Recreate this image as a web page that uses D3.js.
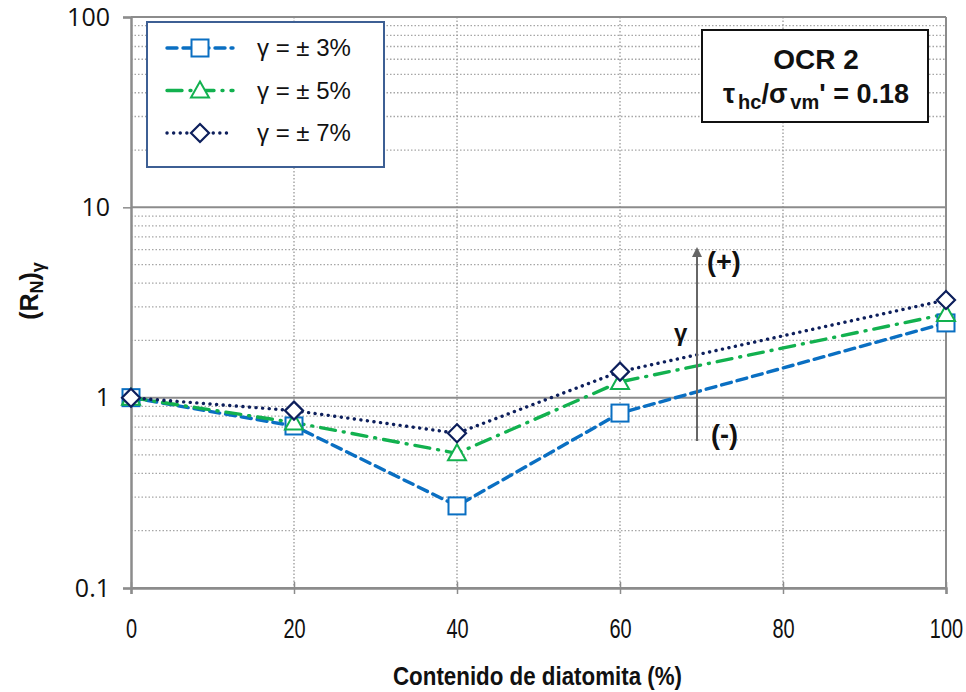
<!DOCTYPE html>
<html>
<head>
<meta charset="utf-8">
<script src="https://cdn.jsdelivr.net/npm/d3@7"></script>
<style>
  body { margin: 0; background: #fff; }
  svg { display: block; }
</style>
</head>
<body>
<div id="chart"></div>
<script>
// data
const xValues = [0, 20, 40, 60, 100];
const series3 = [1.0, 0.71, 0.27, 0.83, 2.47];
const series5 = [1.0, 0.74, 0.51, 1.21, 2.75];
const series7 = [1.0, 0.855, 0.65, 1.37, 3.26];
const seriesNames = ['γ = ± 3%', 'γ = ± 5%', 'γ = ± 7%'];
const xTicks = [0, 20, 40, 60, 80, 100];
const yTicks = [0.1, 1, 10, 100];

const W = 966, H = 692;
const margin = { top: 17, right: 20, bottom: 104, left: 131 };
const width = 946 - margin.left;
const height = 588 - margin.top;
const ARIAL = 'Arial, "Liberation Sans", sans-serif';

const svg = d3.select('#chart').append('svg')
  .attr('width', W).attr('height', H);

const g = svg.append('g')
  .attr('transform', `translate(${margin.left},${margin.top})`);

const x = d3.scaleLinear().domain([0, 100]).range([0, width]);
const y = d3.scaleLog().domain([0.1, 100]).range([height, 0]);

// minor grid (dotted)
const minor = [];
[0.1, 1, 10].forEach(d => { for (let k = 2; k <= 9; k++) minor.push(d * k); });
g.append('g').selectAll('line').data(minor).join('line')
  .attr('x1', 0).attr('x2', width)
  .attr('y1', d => y(d)).attr('y2', d => y(d))
  .attr('stroke', '#a6a6a6').attr('stroke-width', 1.3)
  .attr('stroke-dasharray', '1.5,2');

// vertical grid (dotted)
g.append('g').selectAll('line').data([20, 40, 60, 80]).join('line')
  .attr('x1', d => x(d)).attr('x2', d => x(d))
  .attr('y1', 0).attr('y2', height)
  .attr('stroke', '#999').attr('stroke-width', 1.3)
  .attr('stroke-dasharray', '1.5,2');

// major grid (solid)
g.append('g').selectAll('line').data(yTicks).join('line')
  .attr('x1', 0).attr('x2', width)
  .attr('y1', d => y(d)).attr('y2', d => y(d))
  .attr('stroke', '#8c8c8c').attr('stroke-width', 2);

// right frame
g.append('line').attr('x1', width).attr('x2', width).attr('y1', 0).attr('y2', height)
  .attr('stroke', '#8c8c8c').attr('stroke-width', 2);

// axes
const yAxis = g.append('g')
  .call(d3.axisLeft(y).tickValues(yTicks).tickFormat(d3.format('')).tickSize(8).tickPadding(13));
const xAxis = g.append('g')
  .attr('transform', `translate(0,${height})`)
  .call(d3.axisBottom(x).tickValues(xTicks).tickSize(6).tickPadding(25));
xAxis.selectAll('.tick line').attr('y1', -6);
[yAxis, xAxis].forEach(a => {
  a.select('.domain').attr('stroke', '#8c8c8c').attr('stroke-width', 2.5);
  a.selectAll('.tick line').attr('stroke', '#8c8c8c').attr('stroke-width', 1.5);
  a.selectAll('text').attr('fill', '#111');
});
yAxis.selectAll('text').style('font-family', '"Open Sans", "Noto Sans", sans-serif').style('font-size', '25px');
xAxis.selectAll('text').style('font-family', ARIAL).style('font-size', '27px')
  .attr('transform', 'scale(0.74,1)');

// series
const config = [
  { name: seriesNames[0], values: series3, color: '#0a6fc2', dash: '10,6', marker: 'square' },
  { name: seriesNames[1], values: series5, color: '#12b14f', dash: '15,8,1,8', marker: 'triangle' },
  { name: seriesNames[2], values: series7, color: '#0d1f5c', dash: '0.1,6.5', marker: 'diamond' }
];

const line = d3.line().x((d, i) => x(xValues[i])).y(d => y(d));

function drawMarker(sel, type, color) {
  if (type === 'square') {
    sel.append('rect').attr('x', -8.5).attr('y', -8.5).attr('width', 17).attr('height', 17)
      .attr('fill', '#fff').attr('stroke', color).attr('stroke-width', 2);
  } else if (type === 'triangle') {
    sel.append('path').attr('d', 'M0,-9 L9,7 L-9,7 Z')
      .attr('fill', '#fff').attr('stroke', color).attr('stroke-width', 2);
  } else {
    sel.append('path').attr('d', 'M0,-9 L9,0 L0,9 L-9,0 Z')
      .attr('fill', '#fff').attr('stroke', color).attr('stroke-width', 2.2);
  }
}

config.forEach(s => {
  g.append('path').datum(s.values)
    .attr('d', line).attr('fill', 'none')
    .attr('stroke', s.color).attr('stroke-width', 3.4)
    .attr('stroke-linecap', 'round')
    .attr('stroke-dasharray', s.dash);
});
config.forEach(s => {
  s.values.forEach((v, i) => {
    const m = g.append('g').attr('transform', `translate(${x(xValues[i])},${y(v)})`);
    drawMarker(m, s.marker, s.color);
  });
});

// legend
const legend = svg.append('g').attr('transform', 'translate(147,22)');
legend.append('rect').attr('width', 237).attr('height', 145)
  .attr('fill', '#fff').attr('stroke', '#3d5f94').attr('stroke-width', 2);
config.forEach((s, i) => {
  const ly = 26 + i * 42.5;
  const row = legend.append('g').attr('transform', `translate(0,${ly})`);
  row.append('line').attr('x1', 20).attr('x2', 86).attr('y1', 0).attr('y2', 0)
    .attr('stroke', s.color).attr('stroke-width', 3.4).attr('stroke-linecap', 'round')
    .attr('stroke-dasharray', s.dash);
  const m = row.append('g').attr('transform', 'translate(53,0)');
  drawMarker(m, s.marker, s.color);
  row.append('text').attr('x', 110).attr('y', 8)
    .style('font-family', ARIAL).style('font-size', '24px')
    .attr('fill', '#111').text(s.name);
});

// annotation box
const box = svg.append('g').attr('transform', 'translate(702,30)');
box.append('rect').attr('width', 226).attr('height', 92)
  .attr('fill', '#fff').attr('stroke', '#111').attr('stroke-width', 2);
box.append('text').attr('x', 114).attr('y', 39).attr('text-anchor', 'middle')
  .style('font-family', ARIAL).style('font-size', '28px')
  .style('font-weight', 'bold').attr('fill', '#111').text('OCR 2');
const t2 = box.append('text').attr('x', 114).attr('y', 73).attr('text-anchor', 'middle')
  .style('font-family', ARIAL).style('font-size', '27px')
  .style('font-weight', 'bold').attr('fill', '#111');
t2.append('tspan').text('τ');
t2.append('tspan').attr('dx', 3).attr('dy', 6).style('font-size', '20px').text('hc');
t2.append('tspan').attr('dy', -6).text('/σ');
t2.append('tspan').attr('dx', 3).attr('dy', 6).style('font-size', '20px').text('vm');
t2.append('tspan').attr('dy', -6).text("' = 0.18");

// gamma arrow
svg.append('defs').append('marker')
  .attr('id', 'arrow').attr('viewBox', '0 0 10 10').attr('refX', 2).attr('refY', 5)
  .attr('markerWidth', 5.5).attr('markerHeight', 5).attr('orient', 'auto')
  .append('path').attr('d', 'M0,0 L10,5 L0,10 Z').attr('fill', '#666');
svg.append('line').attr('x1', 697).attr('x2', 697).attr('y1', 441).attr('y2', 255)
  .attr('stroke', '#666').attr('stroke-width', 2).attr('marker-end', 'url(#arrow)');
const ann = svg.append('g')
  .style('font-family', ARIAL).style('font-weight', 'bold')
  .style('font-size', '27px').attr('fill', '#111');
ann.append('text').attr('x', 707).attr('y', 271).text('(+)');
ann.append('text').attr('x', 711).attr('y', 444).text('(-)');
ann.append('text').attr('x', 674).attr('y', 341).style('font-size', '24px').text('γ');

// axis titles
const yl = svg.append('text')
  .attr('transform', 'translate(38,291) rotate(-90)').attr('text-anchor', 'middle')
  .style('font-family', ARIAL).style('font-size', '25px')
  .style('font-weight', 'bold').attr('fill', '#111');
yl.append('tspan').text('(R');
yl.append('tspan').attr('dy', 5).style('font-size', '18px').text('N');
yl.append('tspan').attr('dy', -5).text(')');
yl.append('tspan').attr('dy', 6).style('font-size', '18px').text('γ');

svg.append('text').attr('x', 393).attr('y', 685)
  .attr('textLength', 289).attr('lengthAdjust', 'spacingAndGlyphs')
  .style('font-family', ARIAL)
  .style('font-size', '25px').style('font-weight', 'bold').attr('fill', '#111')
  .text('Contenido de diatomita  (%)');
</script>
</body>
</html>
